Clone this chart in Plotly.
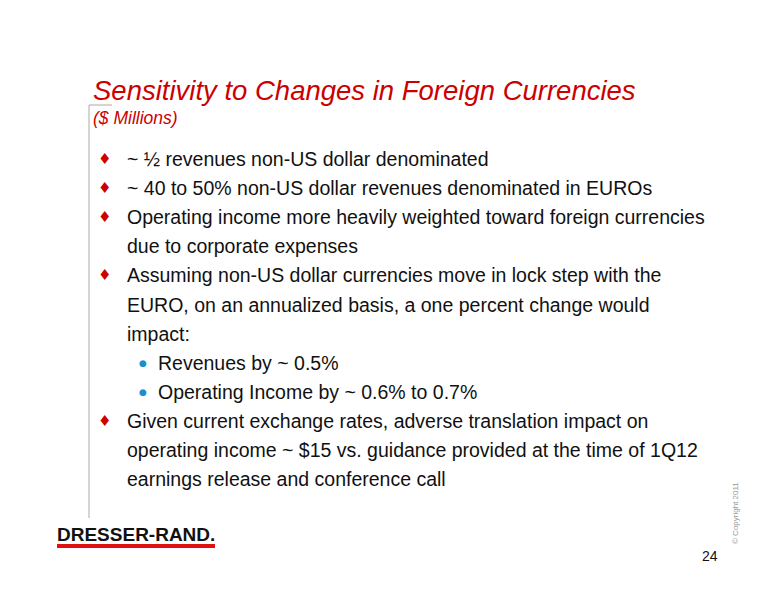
import plotly.graph_objects as go

title = "Sensitivity to Changes in Foreign Currencies"
subtitle = "($ Millions)"
# (level, text) ; level 0 = main bullet, 1 = sub bullet, 2 = continuation line
lines = [
    (0, "~ ½ revenues non-US dollar denominated"),
    (0, "~ 40 to 50% non-US dollar revenues denominated in EUROs"),
    (0, "Operating income more heavily weighted toward foreign currencies"),
    (2, "due to corporate expenses"),
    (0, "Assuming non-US dollar currencies move in lock step with the"),
    (2, "EURO, on an annualized basis, a one percent change would"),
    (2, "impact:"),
    (1, "Revenues by ~ 0.5%"),
    (1, "Operating Income by ~ 0.6% to 0.7%"),
    (0, "Given current exchange rates, adverse translation impact on"),
    (2, "operating income ~ $15 vs. guidance provided at the time of 1Q12"),
    (2, "earnings release and conference call"),
]
page = "24"
copyright_text = "© Copyright 2011"
logo = "DRESSER-RAND."

RED = "#cc0000"
fig = go.Figure()
ann = []
ann.append(dict(x=91, y=90, text="<i>" + title + "</i>", xanchor="left", yanchor="middle",
                font=dict(family="Liberation Sans", size=27.5, color=RED), showarrow=False))
ann.append(dict(x=91, y=118, text="<i>" + subtitle + "</i>", xanchor="left", yanchor="middle",
                font=dict(family="Liberation Sans", size=17.5, color=RED), showarrow=False))
y0, dy = 159, 29.1
for i, (lvl, t) in enumerate(lines):
    y = y0 + i * dy
    if lvl == 0:
        ann.append(dict(x=104, y=y, text="♦", xanchor="center", yanchor="middle",
                        font=dict(family="DejaVu Sans", size=15, color=RED), showarrow=False))
    if lvl == 1:
        ann.append(dict(x=143, y=y, text="●", xanchor="center", yanchor="middle",
                        font=dict(family="DejaVu Sans", size=9, color="#1a8fd0"), showarrow=False))
    xt = 156 if lvl == 1 else 125
    ann.append(dict(x=xt, y=y, text=t, xanchor="left", yanchor="middle",
                    font=dict(family="Liberation Sans", size=19.5, color="#111111"), showarrow=False))
ann.append(dict(x=55, y=534, text="<b>" + logo + "</b>", xanchor="left", yanchor="middle",
                font=dict(family="Liberation Sans", size=19, color="#111"),
                showarrow=False))
ann.append(dict(x=720, y=556, text=page, xanchor="right", yanchor="middle",
                font=dict(family="Liberation Sans", size=14, color="#111"), showarrow=False))
ann.append(dict(x=735, y=513, text=copyright_text, xanchor="center", yanchor="middle", textangle=-90,
                font=dict(family="Liberation Sans", size=8, color="#999"), showarrow=False))

shapes = [
    dict(type="line", x0=89, x1=89, y0=105, y1=518, line=dict(color="#aaaaaa", width=1)),
    dict(type="line", x0=89, x1=112, y0=105, y1=105, line=dict(color="#aaaaaa", width=1)),
    dict(type="line", x0=57, x1=215, y0=546, y1=546, line=dict(color="#e01010", width=4)),
]
for a in ann:
    a["xref"] = "x"; a["yref"] = "y"
for s in shapes:
    s["xref"] = "x"; s["yref"] = "y"
fig.update_layout(width=776, height=600, margin=dict(l=0, r=0, t=0, b=0),
                  paper_bgcolor="white", plot_bgcolor="white",
                  xaxis=dict(range=[8, 784], visible=False, fixedrange=True),
                  yaxis=dict(range=[608, 8], visible=False, fixedrange=True),
                  annotations=ann, shapes=shapes, showlegend=False)
fig.write_html("out.html")
